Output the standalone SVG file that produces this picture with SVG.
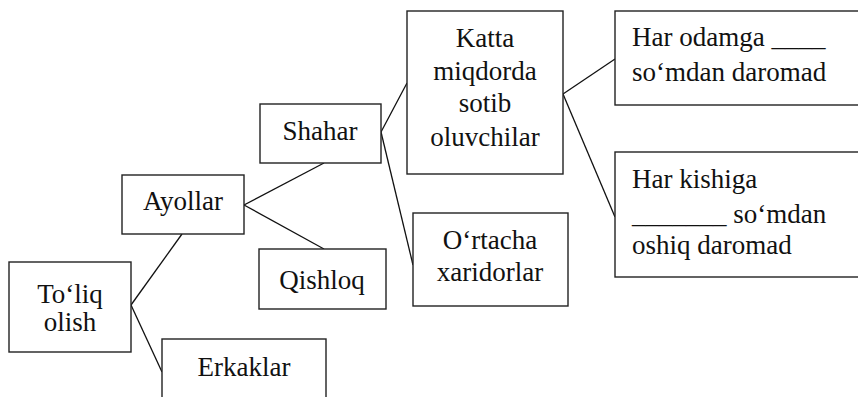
<svg xmlns="http://www.w3.org/2000/svg" width="858" height="397" viewBox="0 0 858 397">
  <style>
    .box { fill: #ffffff; stroke: #222222; stroke-width: 1.4; }
    .edge { stroke: #111111; stroke-width: 1.3; fill: none; }
    .c { text-anchor: middle; }
  </style>
  <rect width="858" height="397" fill="#ffffff"/>

  <!-- tree branches -->
  <g id="connectors">
    <line class="edge" x1="131" y1="305" x2="182" y2="234"/>
    <line class="edge" x1="131" y1="305" x2="162" y2="372"/>
    <line class="edge" x1="244" y1="205" x2="324" y2="163"/>
    <line class="edge" x1="244" y1="205" x2="324" y2="249"/>
    <line class="edge" x1="381" y1="132" x2="407" y2="83"/>
    <line class="edge" x1="381" y1="132" x2="413" y2="265"/>
    <line class="edge" x1="563" y1="94" x2="615" y2="59"/>
    <line class="edge" x1="563" y1="94" x2="615" y2="217"/>
  </g>

  <g font-family="Liberation Serif, Tinos, Times New Roman, serif" font-size="27" fill="#111111">
    <g id="node-toliq">
      <rect class="box" x="9" y="262" width="122" height="90"/>
      <text class="c" x="70" y="303">To‘liq</text>
      <text class="c" x="70" y="331">olish</text>
    </g>

    <g id="node-ayollar">
      <rect class="box" x="122" y="175" width="122" height="59"/>
      <text class="c" x="183" y="210">Ayollar</text>
    </g>

    <g id="node-erkaklar">
      <rect class="box" x="162" y="339" width="164" height="70"/>
      <text class="c" x="244" y="376">Erkaklar</text>
    </g>

    <g id="node-shahar">
      <rect class="box" x="260" y="104" width="121" height="59"/>
      <text class="c" x="320" y="140">Shahar</text>
    </g>

    <g id="node-qishloq">
      <rect class="box" x="259" y="249" width="127" height="60"/>
      <text class="c" x="322" y="289">Qishloq</text>
    </g>

    <g id="node-katta">
      <rect class="box" x="407" y="11" width="156" height="163"/>
      <text class="c" x="485" y="47">Katta</text>
      <text class="c" x="485" y="80">miqdorda</text>
      <text class="c" x="485" y="112">sotib</text>
      <text class="c" x="485" y="146">oluvchilar</text>
    </g>

    <g id="node-ortacha">
      <rect class="box" x="413" y="213" width="155" height="93"/>
      <text class="c" x="490" y="249">O‘rtacha</text>
      <text class="c" x="490" y="281">xaridorlar</text>
    </g>

    <g id="node-odamga">
      <rect class="box" x="615" y="11" width="260" height="94"/>
      <text x="632" y="46">Har odamga ____</text>
      <text x="632" y="81">so‘mdan daromad</text>
    </g>

    <g id="node-kishiga">
      <rect class="box" x="615" y="152" width="260" height="125"/>
      <text x="632" y="188">Har kishiga</text>
      <text x="632" y="223">_______ so‘mdan</text>
      <text x="632" y="254">oshiq daromad</text>
    </g>
  </g>
</svg>
